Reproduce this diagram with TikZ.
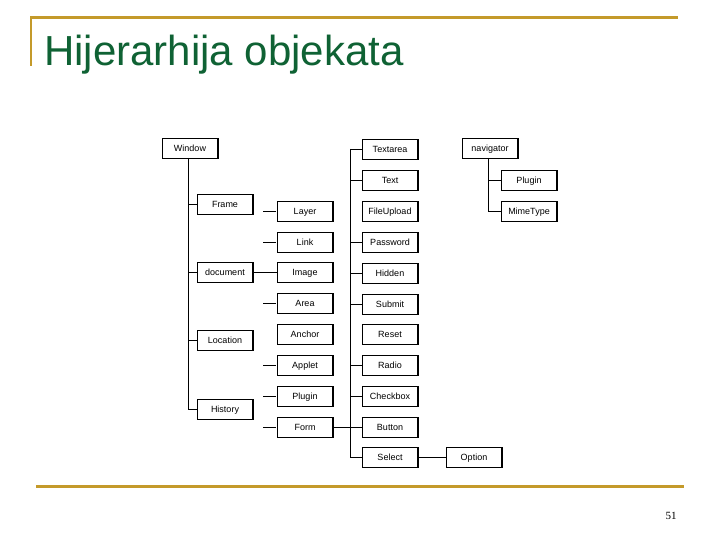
\documentclass[tikz,border=0pt]{standalone}
\usepackage{fontspec}
\setmainfont{Liberation Sans}
\newfontfamily\serifnum{Liberation Serif}
\definecolor{titlegreen}{HTML}{0F6234}
\definecolor{gold}{HTML}{C49A2A}
\begin{document}
\begin{tikzpicture}[x=1pt,y=-1pt,
  obox/.style={draw, line width=0.6pt, minimum width=55pt, minimum height=20pt, inner sep=0pt, text height=6.5pt, text depth=0pt, font=\fontsize{9}{10}\selectfont},
  conn/.style={line width=0.8pt},
  goldline/.style={gold, line width=3pt}]
\useasboundingbox (0,0) rectangle (720,540);
% frame lines
\draw[goldline] (30,18) -- (678,18);
\draw[gold, line width=2.5pt] (31,17) -- (31,66);
\draw[goldline] (36,486) -- (684,486);
\node[anchor=base west, text=titlegreen, font=\fontsize{42}{44}\selectfont, inner sep=0pt] (title) at (44,66) {Hijerarhija objekata};
\node[font=\serifnum\fontsize{11}{12}\selectfont] (pg) at (671,516) {51};
% column 1
\node[obox] (window) at (190,148) {Window};
\node[obox] (frame) at (225,204) {Frame};
\node[obox] (document) at (225,272) {document};
\node[obox] (location) at (225,340) {Location};
\node[obox] (history) at (225,409) {History};
\coordinate (c1top) at (188,158);
\coordinate (c1bot) at (188,410);
\draw[conn] (c1top) -- (c1bot);
\foreach \n in {frame,document,location,history}
  \draw[conn] (188,0 |- \n.west) -- (\n.west);
% column 2
\node[obox] (layer) at (305,211) {Layer};
\node[obox] (link) at (305,242) {Link};
\node[obox] (image) at (305,272) {Image};
\node[obox] (area) at (305,303) {Area};
\node[obox] (anchor) at (305,334) {Anchor};
\node[obox] (applet) at (305,365) {Applet};
\node[obox] (plugin) at (305,396) {Plugin};
\node[obox] (form) at (305,427) {Form};
\foreach \n in {layer,link,area,applet,plugin,form}
  \draw[conn] ([xshift=-14pt]\n.west) -- ([xshift=-1pt]\n.west);
\draw[conn] (document.east) -- (image.west);
% column 3
\node[obox] (textarea) at (390,149) {Textarea};
\node[obox] (text) at (390,180) {Text};
\node[obox] (fileupload) at (390,211) {FileUpload};
\node[obox] (password) at (390,242) {Password};
\node[obox] (hidden) at (390,273) {Hidden};
\node[obox] (submit) at (390,304) {Submit};
\node[obox] (reset) at (390,334) {Reset};
\node[obox] (radio) at (390,365) {Radio};
\node[obox] (checkbox) at (390,396) {Checkbox};
\node[obox] (button) at (390,427) {Button};
\node[obox] (select) at (390,457) {Select};
\coordinate (c3top) at (350,149);
\coordinate (c3bot) at (350,457);
\draw[conn] (c3top) -- (c3bot);
\foreach \n in {textarea,text,password,hidden,submit,radio,checkbox,select}
  \draw[conn] (350,0 |- \n.west) -- (\n.west);
\draw[conn] (form.east) -- (button.west);
% navigator
\node[obox] (navigator) at (490,148) {navigator};
\node[obox] (nplugin) at (529,180) {Plugin};
\node[obox] (mimetype) at (529,211) {MimeType};
\coordinate (ntop) at (488,158);
\coordinate (nbot) at (488,211);
\draw[conn] (ntop) -- (nbot);
\foreach \n in {nplugin,mimetype}
  \draw[conn] (488,0 |- \n.west) -- (\n.west);
% option
\node[obox] (option) at (474,457) {Option};
\draw[conn] (select.east) -- (option.west);
% shadows
\foreach \n in {window,frame,document,location,history,layer,link,image,area,anchor,applet,plugin,form,textarea,text,fileupload,password,hidden,submit,reset,radio,checkbox,button,select,navigator,nplugin,mimetype,option}
  \draw[line width=1.4pt] (\n.south west) -- (\n.south east) -- (\n.north east);
\end{tikzpicture}
\end{document}
